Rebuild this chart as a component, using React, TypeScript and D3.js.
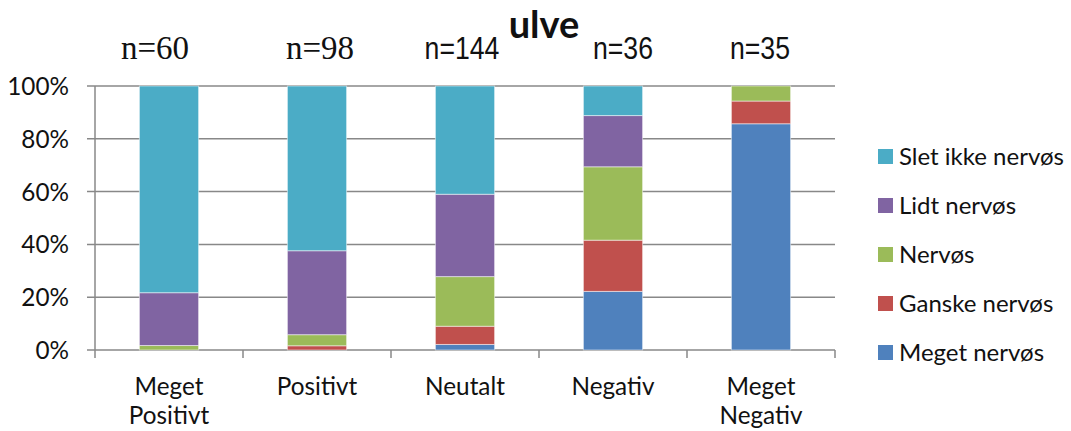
import React from "react";
import * as d3 from "d3";

const categories = ["Meget Positivt", "Positivt", "Neutalt", "Negativ", "Meget Negativ"];
const categoryLines = [["Meget", "Positivt"], ["Positivt"], ["Neutalt"], ["Negativ"], ["Meget", "Negativ"]];
const nLabels = ["n=60", "n=98", "n=144", "n=36", "n=35"];
const nSerif = [true, true, false, false, false];
const nOffsets = [-14, 3, -3, 10, -1];
const seriesNames = ["Meget nervøs", "Ganske nervøs", "Nervøs", "Lidt nervøs", "Slet ikke nervøs"];
const seriesColors = ["#4f81bd", "#c0504d", "#9bbb59", "#8064a2", "#4bacc6"];
const megetNervos = [0, 0, 2.1, 22.2, 85.7];
const ganskeNervos = [0, 1.6, 6.9, 19.4, 8.6];
const nervos = [1.7, 4.2, 18.8, 27.8, 5.7];
const lidtNervos = [20.0, 31.8, 31.2, 19.4, 0];
const sletIkkeNervos = [78.3, 62.4, 41.0, 11.2, 0];
const yTicks = [0, 20, 40, 60, 80, 100];
const title = "ulve";

const seriesValues = [megetNervos, ganskeNervos, nervos, lidtNervos, sletIkkeNervos];

export default function App() {
  const W = 1071, H = 431;
  const left = 95, right = 835, top = 86, bottom = 350;
  const x = d3.scaleBand<string>().domain(categories).range([left, right]).paddingInner(0.6).paddingOuter(0.3);
  const xOuter = d3.scaleBand<string>().domain(categories).range([left, right]);
  const y = d3.scaleLinear().domain([0, 100]).range([bottom, top]);

  const rows = categories.map((c, i) => {
    const r: any = { cat: c };
    seriesNames.forEach((s, j) => (r[s] = seriesValues[j][i]));
    return r;
  });
  const stacked = d3.stack<any>().keys(seriesNames)(rows);
  const sans = "Lato, sans-serif";
  const fs = 24.3;

  return (
    <svg width={W} height={H} style={{ position: "absolute", left: 0, top: 0, background: "#fff" }}>
      <rect x={0} y={0} width={W} height={H} fill="#fff" />
      {yTicks.map((t) => (
        <g key={t}>
          <line x1={left - 8} x2={right} y1={y(t)} y2={y(t)} stroke="#888" strokeWidth={1.5} />
          <text x={69} y={y(t) + 9} textAnchor="end" fontFamily={sans} fontSize={fs} fill="#111">
            {t}%
          </text>
        </g>
      ))}
      <line x1={left} x2={left} y1={top} y2={bottom} stroke="#888" strokeWidth={1.5} />
      {categories.map((c) => (
        <line key={c} x1={(xOuter(c) as number) + xOuter.bandwidth()} x2={(xOuter(c) as number) + xOuter.bandwidth()} y1={bottom} y2={bottom + 8} stroke="#888" strokeWidth={1.5} />
      ))}
      <line x1={left} x2={left} y1={bottom} y2={bottom + 8} stroke="#888" strokeWidth={1.5} />
      {stacked.map((s, j) => (
        <g key={s.key}>
          {s.map((d, i) =>
            d[1] - d[0] > 0 ? (
              <rect
                key={i}
                x={x(categories[i])}
                width={x.bandwidth()}
                y={y(d[1])}
                height={y(d[0]) - y(d[1])}
                fill={seriesColors[j]}
                stroke="#fff"
                strokeOpacity={0.5}
                strokeWidth={1}
              />
            ) : null
          )}
        </g>
      ))}
      {categories.map((c, i) => {
        const cx = (xOuter(c) as number) + xOuter.bandwidth() / 2;
        return (
          <g key={c}>
            {categoryLines[i].map((l, k) => (
              <text key={k} x={cx} y={395 + k * 29} textAnchor="middle" fontFamily={sans} fontSize={fs} fill="#111">
                {l}
              </text>
            ))}
            <g transform={`translate(${cx + nOffsets[i]},59) scale(${nSerif[i] ? 1 : 0.86},1)`}>
              <text
                x={0}
                y={0}
                textAnchor="middle"
                fontFamily={nSerif[i] ? "'Liberation Serif', 'Times New Roman', serif" : "'Liberation Sans', Arial, sans-serif"}
                fontSize={nSerif[i] ? 33 : 31}
                fill="#111"
              >
                {nLabels[i]}
              </text>
            </g>
          </g>
        );
      })}
      <text x={544} y={38} textAnchor="middle" fontFamily={sans} fontWeight="bold" fontSize={38} fill="#111">
        {title}
      </text>
      {seriesNames
        .slice()
        .reverse()
        .map((s, k) => {
          const idx = seriesNames.length - 1 - k;
          const cy = 156 + k * 49;
          return (
            <g key={s}>
              <rect x={878} y={cy - 7} width={15} height={15} fill={seriesColors[idx]} />
              <text x={899} y={cy + 9} fontFamily={sans} fontSize={24} fill="#111">
                {s}
              </text>
            </g>
          );
        })}
    </svg>
  );
}
